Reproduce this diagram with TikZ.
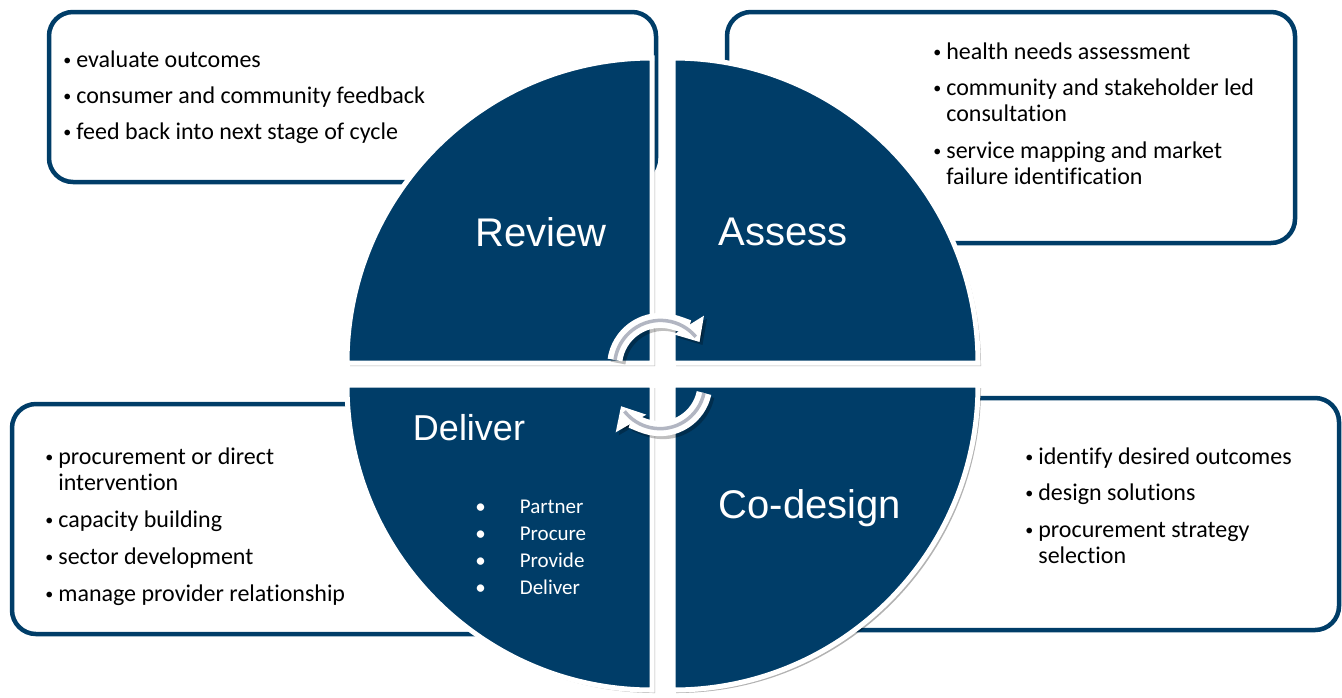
\documentclass[tikz,border=0pt]{standalone}
\usepackage{fontspec}
\setmainfont{Carlito}[Ligatures=NoCommon]
\newfontfamily\headfont{Liberation Sans}
\usetikzlibrary{shadows,arrows.meta}
\definecolor{navy}{RGB}{0,61,104}
\definecolor{arrowgrey}{RGB}{178,182,194}
\newcommand{\dotmark}{\raisebox{0.6pt}{\fontsize{8}{8}\selectfont •}}

\begin{document}
\begin{tikzpicture}[x=0.5pt,y=-0.5pt,
        info box/.style={draw=navy,line width=2.25pt,fill=white,rounded corners=12pt},
        quarter/.style={fill=navy,draw=white,line width=2.5pt,
            drop shadow={shadow xshift=1.5pt,shadow yshift=-1.5pt,fill=black,opacity=0.3}},
        head/.style={font=\headfont\fontsize{20}{24}\selectfont,text=white,inner sep=0pt},
        list/.style={font=\fontsize{12}{13}\selectfont,anchor=base west,inner sep=0pt},
        cycle arrow/.style={draw=white,line width=7.5pt,-{Triangle[length=10pt,width=17pt]}},
        arrow shade/.style={draw=black,opacity=0.25,line width=7.5pt,-{Triangle[length=10pt,width=17pt]},
            transform canvas={shift={(1.5pt,-1.5pt)}}},
        arrow core/.style={draw=arrowgrey,line width=1.75pt}]

    \useasboundingbox (0,0) rectangle (1342,697);

    % Text boxes behind the circle
    \draw[info box] (49,12) rectangle (656,182);
    \draw[info box] (727,12) rectangle (1295,243);
    \draw[info box] (12,404) rectangle (500,634);
    \draw[info box] (830,398) rectangle (1339,630);

    \node[list] (reviewlist) at (63,67) {\begin{tabular}[t]{@{}l@{\hspace{2.5pt}}l@{}}
        \dotmark & evaluate outcomes\\[5pt]
        \dotmark & consumer and community feedback\\[5pt]
        \dotmark & feed back into next stage of cycle
        \end{tabular}};
    \node[list] (assesslist) at (933,59) {\begin{tabular}[t]{@{}l@{\hspace{2.5pt}}l@{}}
        \dotmark & health needs assessment\\[5pt]
        \dotmark & community and stakeholder led\\
          & consultation\\[5.5pt]
        \dotmark & service mapping and market\\
          & failure identification
        \end{tabular}};
    \node[list] (deliverlist) at (45,464) {\begin{tabular}[t]{@{}l@{\hspace{2.5pt}}l@{}}
        \dotmark & procurement or direct\\
          & intervention\\[5.5pt]
        \dotmark & capacity building\\[5.5pt]
        \dotmark & sector development\\[5.5pt]
        \dotmark & manage provider relationship
        \end{tabular}};
    \node[list] (codesignlist) at (1025,464) {\begin{tabular}[t]{@{}l@{\hspace{2.5pt}}l@{}}
        \dotmark & identify desired outcomes\\[5pt]
        \dotmark & design solutions\\[5.5pt]
        \dotmark & procurement strategy\\
          & selection
        \end{tabular}};

    % Four quarters of the cycle
    \path[quarter] (652,363) -- (347,363) arc[start angle=180,end angle=270,radius=305] -- cycle;
    \path[quarter] (673,363) -- (673,58) arc[start angle=270,end angle=360,radius=305] -- cycle;
    \path[quarter] (673,385) -- (978,385) arc[start angle=0,end angle=90,radius=305] -- cycle;
    \path[quarter] (652,385) -- (652,690) arc[start angle=90,end angle=180,radius=305] -- cycle;

    \node[head] (review) at (541,232) {Review};
    \node[head] (assess) at (783,232) {Assess};
    \node[head,font=\headfont\fontsize{18}{22}\selectfont] (deliver) at (469,428) {Deliver};
    \node[head] (codesign) at (810,508) {Co-design};

    \node[list,font=\fontsize{10.5}{13.5}\selectfont,text=white] (steps) at (475,513)
        {\begin{tabular}[t]{@{}l@{\hspace{17pt}}l@{}}
        • & Partner\\
        • & Procure\\
        • & Provide\\
        • & Deliver
        \end{tabular}};

    % Cycle arrows in the middle
    \draw[arrow shade] (615,360) arc[start angle=188,end angle=328,radius=46];
    \draw[cycle arrow] (615,360) arc[start angle=188,end angle=328,radius=46];
    \draw[arrow core] (615,360) arc[start angle=188,end angle=320,radius=46];
    \draw[arrow shade] (704,393) arc[start angle=12,end angle=150,radius=45];
    \draw[cycle arrow] (704,393) arc[start angle=12,end angle=150,radius=45];
    \draw[arrow core] (704,393) arc[start angle=12,end angle=142,radius=45];

\end{tikzpicture}
\end{document}
